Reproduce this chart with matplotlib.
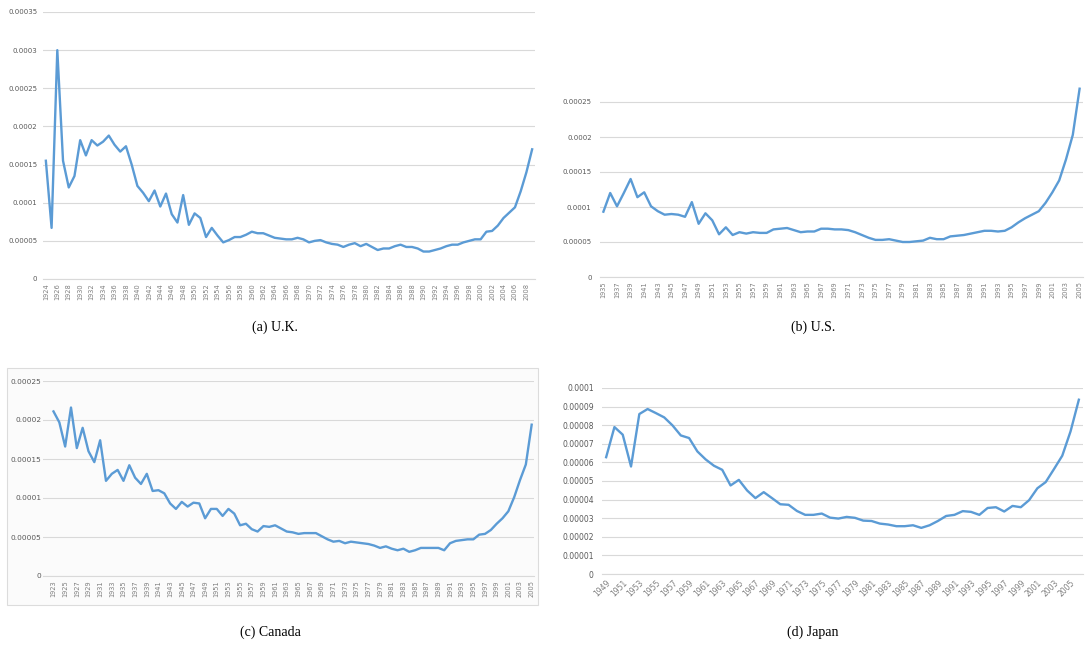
import matplotlib as mpl
mpl.use("Agg")
import matplotlib.pyplot as plt
from matplotlib.patches import Rectangle

W, H = 1088, 645

uk_years = list(range(1924, 2010))
uk_vals = [0.000155, 0.000067, 0.0003, 0.000155, 0.00012, 0.000135, 0.000182, 0.000162, 0.000182, 0.000175,
           0.00018, 0.000188, 0.000176, 0.000167, 0.000174, 0.00015, 0.000122, 0.000113, 0.000102, 0.000116,
           0.000095, 0.000112, 0.000085, 0.000074, 0.00011, 0.000071, 0.000086, 0.00008, 0.000055, 0.000067,
           0.000057, 0.000048, 0.000051, 0.000055, 0.000055, 0.000058, 0.000062, 0.00006, 0.00006, 0.000057,
           0.000054, 0.000053, 0.000052, 0.000052, 0.000054, 0.000052, 0.000048, 0.00005, 0.000051, 0.000048,
           0.000046, 0.000045, 0.000042, 0.000045, 0.000047, 0.000043, 0.000046, 0.000042, 0.000038, 0.00004,
           0.00004, 0.000043, 0.000045, 0.000042, 0.000042, 0.00004, 0.000036, 0.000036, 0.000038, 0.00004,
           0.000043, 0.000045, 0.000045, 0.000048, 0.00005, 0.000052, 0.000052, 0.000062, 0.000063, 0.00007,
           0.00008, 0.000087, 0.000094, 0.000115, 0.00014, 0.00017]

us_years = list(range(1935, 2006))
us_vals = [0.0000933, 0.00012, 0.000101, 0.00012, 0.00014, 0.000114, 0.000121, 0.000101, 0.000094, 0.000089,
           0.00009, 0.000089, 0.000086, 0.000107, 0.000076, 0.000091, 0.000081, 0.000061, 0.000071, 0.00006,
           0.000064, 0.000062, 0.000064, 0.000063, 0.000063, 0.000068, 0.000069, 0.00007, 0.000067, 0.000064,
           0.000065, 0.000065, 0.000069, 0.000069, 0.000068, 0.000068, 0.000067, 0.000064, 0.00006, 0.000056,
           0.000053, 0.000053, 0.000054, 0.000052, 0.00005, 0.00005, 0.000051, 0.000052, 0.000056, 0.000054,
           0.000054, 0.000058, 0.000059, 0.00006, 0.000062, 0.000064, 0.000066, 0.000066, 0.000065, 0.000066,
           0.000071, 0.000078, 0.000084, 0.000089, 0.000094, 0.000106, 0.000121, 0.000138, 0.000168, 0.000203,
           0.000269]

ca_years = list(range(1923, 2006))
ca_vals = [0.000211, 0.000197, 0.000166, 0.000216, 0.000164, 0.00019, 0.00016, 0.000146, 0.000174, 0.000122,
           0.000131, 0.000136, 0.000122, 0.000142, 0.000126, 0.000118, 0.000131, 0.000109, 0.00011, 0.000106,
           0.000093, 0.000086, 0.000095, 0.000089, 0.000094, 0.000093, 0.000074, 0.000086, 0.000086, 0.000077,
           0.000086, 0.00008, 0.000065, 0.000067, 0.00006, 0.000057, 0.000064, 0.000063, 0.000065, 0.000061,
           0.000057, 0.000056, 0.000054, 0.000055, 0.000055, 0.000055, 0.000051, 0.000047, 0.000044, 0.000045,
           0.000042, 0.000044, 0.000043, 0.000042, 0.000041, 0.000039, 0.000036, 0.000038, 0.000035, 0.000033,
           0.000035, 0.000031, 0.000033, 0.000036, 0.000036, 0.000036, 0.000036, 0.000033, 0.000042, 0.000045,
           0.000046, 0.000047, 0.000047, 0.000053, 0.000054, 0.000059, 0.000067, 0.000074, 0.000083, 0.000101,
           0.000123, 0.000143, 0.000194]

jp_years = list(range(1949, 2007))
jp_vals = [0.0000628, 0.000079, 0.0000749, 0.0000578, 0.000086, 0.0000887, 0.0000865, 0.0000842, 0.0000799, 0.0000745,
           0.0000731, 0.0000659, 0.0000616, 0.0000582, 0.000056, 0.0000476, 0.0000506, 0.0000449, 0.0000408, 0.000044,
           0.0000408, 0.0000375, 0.0000372, 0.0000339, 0.0000318, 0.0000318, 0.0000325, 0.0000303, 0.0000298, 0.0000307,
           0.0000302, 0.0000287, 0.0000285, 0.0000271, 0.0000266, 0.0000257, 0.0000257, 0.0000262, 0.0000248, 0.0000262,
           0.0000285, 0.0000312, 0.0000318, 0.0000338, 0.0000334, 0.0000318, 0.0000355, 0.0000359, 0.0000336, 0.0000366,
           0.0000359, 0.0000397, 0.0000461, 0.0000494, 0.0000564, 0.0000636, 0.0000767, 0.0000937]

captions = ["(a) U.K.", "(b) U.S.", "(c) Canada", "(d) Japan"]

fig = plt.figure(figsize=(W / 100, H / 100), dpi=100)

# soft frame behind the Canada panel, as in the source image
fig.patches.append(Rectangle((7 / W, 1 - 605 / H), 531 / W, 237 / H, transform=fig.transFigure,
                             facecolor="#fbfbfb", edgecolor="#dcdcdc", lw=0.8, zorder=-10))


def yfmt(v, pos):
    s = "%.5f" % v
    s = s.rstrip("0").rstrip(".")
    return s


def panel(box, years, vals, ylim, yticks, xlim_pad, rot, fs_y, fs_x, ypad=6):
    l, t, r, b = box
    ax = fig.add_axes([l / W, 1 - b / H, (r - l) / W, (b - t) / H])
    ax.patch.set_alpha(0)
    x = list(range(len(years)))
    ax.plot(x, vals, color="#5b9bd5", lw=1.7, solid_joinstyle="round")
    ax.set_xlim(-xlim_pad[0], len(years) - 1 + xlim_pad[1])
    ax.set_ylim(*ylim)
    ax.set_yticks(yticks)
    ax.yaxis.set_major_formatter(mpl.ticker.FuncFormatter(yfmt))
    ax.set_xticks(x[::2])
    if rot == 90:
        ax.set_xticklabels([str(y) for y in years[::2]], rotation=90, fontsize=fs_x, color="#7f7f7f")
    else:
        ax.set_xticklabels([str(y) for y in years[::2]], rotation=45, ha="right", rotation_mode="anchor",
                           fontsize=fs_x, color="#7f7f7f")
    for lab in ax.get_yticklabels():
        lab.set_fontsize(fs_y)
        lab.set_color("#595959")
    ax.tick_params(length=0, pad=3)
    ax.tick_params(axis="y", pad=ypad)
    ax.grid(axis="y", color="#d9d9d9", lw=0.8)
    ax.set_axisbelow(True)
    for s in ["top", "right", "left"]:
        ax.spines[s].set_visible(False)
    ax.spines["bottom"].set_color("#d9d9d9")
    ax.spines["bottom"].set_linewidth(0.8)
    return ax


panel((43, 12, 535, 279), uk_years, uk_vals, (0, 0.00035),
      [i * 0.00005 for i in range(8)], (0.5, 0.5), 90, 5, 4.8, ypad=4)
panel((600, 74, 1083, 277), us_years, us_vals, (0, 0.00029),
      [i * 0.00005 for i in range(6)], (0.5, 0.5), 90, 5, 4.8)
panel((43, 381, 534, 576), ca_years, ca_vals, (0, 0.00025),
      [i * 0.00005 for i in range(6)], (1.8, 0.4), 90, 5.3, 4.8, ypad=1)
panel((602, 388, 1083, 574), jp_years, jp_vals, (0, 0.0001),
      [i * 0.00001 for i in range(11)], (0.5, 0.5), 45, 5.5, 5.5)

cap_pos = [(275, 327), (813, 327), (270, 632), (813, 632)]
for txt, (cx, cy) in zip(captions, cap_pos):
    fig.text(cx / W, 1 - cy / H, txt, ha="center", va="center", fontsize=10,
             family="Liberation Serif", color="black")

plt.savefig("out.png", dpi=100)
